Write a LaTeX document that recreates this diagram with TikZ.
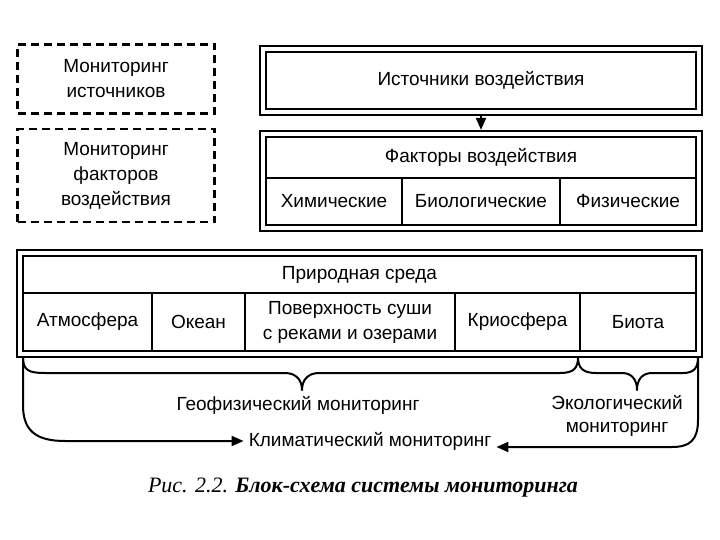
\documentclass[tikz,border=0pt]{standalone}
\usepackage{fontspec}
\setmainfont{Liberation Sans}
\newfontfamily\capfont{Liberation Serif}
\usetikzlibrary{arrows.meta}
\begin{document}
\begin{tikzpicture}[x=1pt,y=-1pt,
  txt/.style={font=\fontsize{19}{25}\selectfont, align=center, inner sep=0pt},
  dashbox/.style={draw, line width=2.4pt, dash pattern=on 8pt off 5pt, minimum width=197pt, inner sep=0pt, txt},
  frame/.style={draw, line width=2.2pt, inner sep=0pt},
  cell/.style={draw, line width=1.4pt, inner sep=0pt, txt},
  conn/.style={line width=2pt, line cap=round, line join=round},
  tip/.style={-{Triangle[length=12pt,width=10pt]}},
  lbl/.style={txt, inner sep=4pt}
]
\useasboundingbox (0,0) rectangle (720,540);

% dashed monitoring boxes
\node[dashbox, minimum height=69pt] (monsrc) at (116,79) {Мониторинг\\источников};
\node[dashbox, minimum height=93pt] (monfac) at (116,175.5) {Мониторинг\\факторов\\воздействия};

% sources
\node[frame, minimum width=442pt, minimum height=69pt] (srcframe) at (481,80.5) {};
\node[cell, minimum width=430pt, minimum height=57pt] (src) at (481,80.5) {Источники воздействия};

% factors
\node[frame, minimum width=442pt, minimum height=100pt] (facframe) at (481,181) {};
\node[cell, minimum width=430pt, minimum height=41pt] (fac) at (481,157.5) {Факторы воздействия};
\node[cell, minimum width=136pt, minimum height=47pt] (chem) at (334,201.5) {Химические};
\node[cell, minimum width=158pt, minimum height=47pt] (bio) at (481,201.5) {Биологические};
\node[cell, minimum width=136pt, minimum height=47pt] (phys) at (628,201.5) {Физические};

\draw[conn, tip] (srcframe.south) -- (facframe.north);

% environment
\node[frame, minimum width=685pt, minimum height=107pt] (envframe) at (359.5,303.5) {};
\node[cell, minimum width=673pt, minimum height=37pt] (env) at (359.5,274.5) {Природная среда};
\node[cell, minimum width=129pt, minimum height=58pt] (atm) at (87.5,322) {Атмосфера};
\node[cell, minimum width=93pt, minimum height=58pt] (ocean) at (198.5,322) {Океан};
\node[cell, minimum width=210pt, minimum height=58pt] (land) at (350,322) {Поверхность суши\\с реками и озерами};
\node[cell, minimum width=125pt, minimum height=58pt] (cryo) at (517.5,322) {Криосфера};
\node[cell, minimum width=116pt, minimum height=58pt] (biota) at (638,322) {Биота};

% labels
\node[lbl] (geo) at (298,405) {Геофизический мониторинг};
\node[lbl, font=\fontsize{19}{23}\selectfont] (eco) at (617,416) {Экологический\\мониторинг};
\node[lbl, inner sep=5pt] (clim) at (370,441) {Климатический мониторинг};

\coordinate (bL) at (23,357);
\coordinate (bM) at (578,357);
\coordinate (bR) at (698,357);
\coordinate (geotip) at (302,390);
\coordinate (ecotip) at (637,390);
\coordinate (rbend) at (672,447);

% braces
\draw[conn] (bL) .. controls (23,370) and (28,373) .. (45,373) -- (285,373)
  .. controls (296,373) and (302,380) .. (geotip)
  .. controls (302,380) and (308,373) .. (319,373) -- (560,373)
  .. controls (574,373) and (578,368) .. (bM);
\draw[conn] (bM) .. controls (578,368) and (583,373) .. (596,373) -- (622,373)
  .. controls (632,373) and (637,380) .. (ecotip)
  .. controls (637,380) and (642,373) .. (652,373) -- (683,373)
  .. controls (694,373) and (698,368) .. (bR);

% climatic arrows
\draw[conn, tip] (bL) -- (23,405) .. controls (23,430) and (35,441) .. (65,441) -- (clim.west);
\draw[conn, tip] (bR) -- (698,420) .. controls (698,440) and (690,447) .. (rbend) -- (clim.east |- rbend);

% caption
\node[font=\capfont\fontsize{22}{24}\selectfont, inner sep=0pt] (cap) at (363,488) {\itshape Рис. 2.2. \bfseries Блок-схема системы мониторинга};
\end{tikzpicture}
\end{document}
